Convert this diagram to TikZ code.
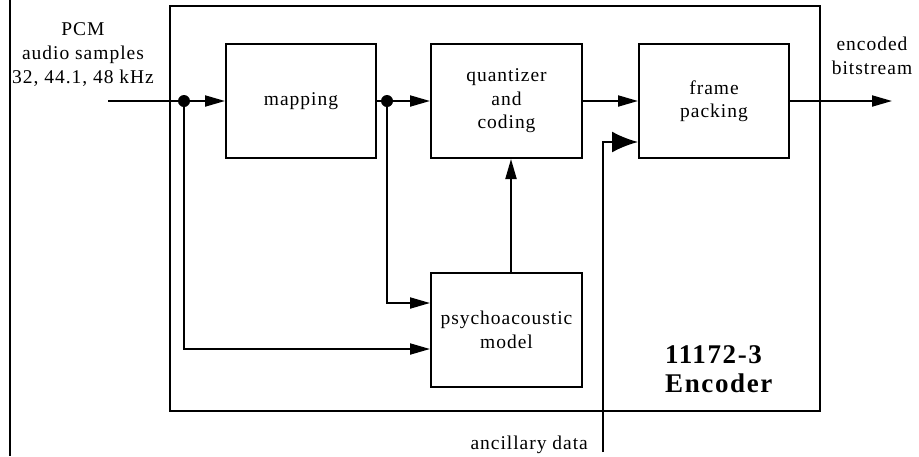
\documentclass[tikz,border=0pt]{standalone}
\usepackage{fontspec}
\setmainfont{Liberation Serif}[LetterSpace=5]
\newfontfamily\boldlabel{Liberation Serif}[LetterSpace=6]
\usetikzlibrary{arrows.meta}

\tikzset{
	blk/.style={draw,line width=2pt,minimum width=150pt,minimum height=114pt,inner sep=0pt,align=center,font=\fontsize{19.5}{23.5}\selectfont},
	wire/.style={line width=2pt},
	flow/.style={wire,-{Triangle[length=20pt,width=11pt]}},
	bigflow/.style={wire,-{Latex[length=26pt,width=21pt]}},
	lbl/.style={align=center,inner sep=0pt,font=\fontsize{19.5}{24}\selectfont}
}

\begin{document}
\begin{tikzpicture}[x=1pt,y=-1pt]
			\useasboundingbox (0,0) rectangle (919,456);
			
			% Frames
			\draw[line width=2.4pt] (10,0) -- (10,456);
			\draw[wire] (170,6) rectangle (820,411);
			
			% Blocks
			\node[blk] (map) at (301,101) {mapping};
			\node[blk,minimum width=151pt] (quant) at (506.5,101) {quantizer\\and\\coding};
			\node[blk] (frame) at (714,101) {frame\\packing};
			\node[blk,minimum width=151pt] (psy) at (506.5,330) {psychoacoustic\\model};
			
			% Points
			\coordinate (pcm) at (108,101);
			\coordinate (split1) at (184,101);
			\coordinate (split2) at (387,101);
			\coordinate (anc) at (603,452);
			\coordinate (out) at (892,101);
			
			% Signal paths
			\draw[wire] (pcm) -- (split1);
			\draw[flow] (split1) -- (map);
			\draw[wire] (map) -- (split2);
			\draw[flow] (split2) -- (quant);
			\draw[flow] (split2) |- ([yshift=27pt]psy.west);
			\draw[flow] (split1) |- ([yshift=-19pt]psy.west);
			\draw[flow] ([xshift=4.5pt]psy.north) -- ([xshift=4.5pt]quant.south);
			\draw[flow] (quant) -- (frame);
			\draw[flow] (frame) -- (out);
			\draw[bigflow] (anc) |- ([yshift=-41pt]frame.west);
			\fill (split1) circle[radius=6pt];
			\fill (split2) circle[radius=6pt];
			
			% Labels
			\node[lbl] (pcmtext) at (83,55) {PCM\\audio samples\\32, 44.1, 48 kHz};
			\node[lbl] (outtext) at (872,56) {encoded\\bitstream};
			\node[lbl,anchor=base east] (anctext) at (588,449) {ancillary data};
			\node[lbl,align=left,anchor=west,font=\fontsize{27}{29}\boldlabel\bfseries] (enctext) at (665,369) {11172-3\\Encoder};
			
		\end{tikzpicture}
\end{document}
